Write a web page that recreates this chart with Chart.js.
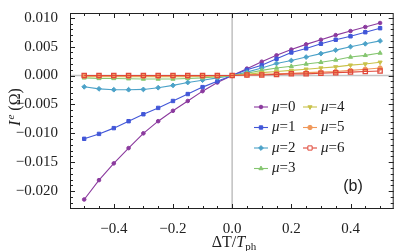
<!DOCTYPE html>
<html>
<head>
<meta charset="utf-8">
<script src="https://cdn.jsdelivr.net/npm/chart.js@4.4.0/dist/chart.umd.min.js"></script>
<style>
html,body{margin:0;padding:0;background:#fff;}
#wrap{position:relative;width:399px;height:251px;}
</style>
</head>
<body>
<div id="wrap"><canvas id="c" width="399" height="251"></canvas></div>
<script>
// ---- data ----
const deltaT = [-0.5,-0.45,-0.4,-0.35,-0.3,-0.25,-0.2,-0.15,-0.1,-0.05,0,0.05,0.1,0.15,0.2,0.25,0.3,0.35,0.4,0.45,0.5];
const mu0 = [-0.02145,-0.0181,-0.0152,-0.01256,-0.0100,-0.0079,-0.0061,-0.0044,-0.0027,-0.0012,0,0.0012,0.0024,0.0035,0.0045,0.0054,0.0062,0.0070,0.0077,0.0084,0.0091];
const mu1 = [-0.01095,-0.0101,-0.0091,-0.0079,-0.0067,-0.0056,-0.0044,-0.0032,-0.0020,-0.0010,0,0.0010,0.0018,0.0029,0.0040,0.0047,0.0055,0.0062,0.0068,0.0075,0.0082];
const mu2 = [-0.00195,-0.0023,-0.00245,-0.00245,-0.0024,-0.0021,-0.0017,-0.0012,-0.0008,-0.0004,0,0.0006,0.0013,0.0021,0.0026,0.0032,0.0038,0.0044,0.0050,0.0055,0.0060];
const mu3 = [-0.0004,-0.0005,-0.0005,-0.00055,-0.0006,-0.0006,-0.0006,-0.0005,-0.0004,-0.0002,0,0.0004,0.0009,0.0013,0.0016,0.0020,0.0023,0.0027,0.0032,0.0035,0.0039];
const mu4 = [-0.0002,-0.0002,-0.0002,-0.0002,-0.0002,-0.0002,-0.0002,-0.0002,-0.0001,-0.0001,0,0.0002,0.0005,0.0007,0.0009,0.0011,0.0013,0.0015,0.0018,0.0020,0.0023];
const mu5 = [-0.0001,-0.0001,-0.0001,-0.0001,-0.0001,-0.0001,-0.0001,-0.0001,-0.0001,0,0,0.0001,0.0002,0.0003,0.0004,0.0005,0.0006,0.0007,0.0009,0.0011,0.0013];
const mu6 = [0,0,0,0,0,0,0,0,0,0,0,0.0001,0.0001,0.0002,0.0003,0.0003,0.0004,0.0005,0.0006,0.0007,0.0008];
const seriesLabels = ['μ=0','μ=1','μ=2','μ=3','μ=4','μ=5','μ=6'];
const xTicks = [-0.4,-0.2,0,0.2,0.4];
const yTicks = [-0.020,-0.015,-0.010,-0.005,0,0.005,0.010];

// ---- styles ----
const colors = ['#8b3a9e','#4257d8','#4ca2c8','#85c670','#c9c24a','#f0985a','#e0483a'];
const styles = ['circle','rect','rectRot','triangle','triangle','circle','rect'];
const radii = [1.8,2.4,2.4,2.4,2.4,2.2,3.0];
const rots = [0,0,0,0,180,0,0];
const filled = [true,true,true,true,true,true,false];
const allSeries = [mu0,mu1,mu2,mu3,mu4,mu5,mu6];

const datasets = allSeries.map((s,i)=>({
  label: seriesLabels[i],
  data: deltaT.map((x,k)=>({x:x,y:s[k]})),
  borderColor: colors[i],
  backgroundColor: filled[i] ? colors[i] : 'rgba(255,255,255,0)',
  pointBorderColor: colors[i],
  pointBackgroundColor: filled[i] ? colors[i] : 'rgba(255,255,255,0)',
  pointStyle: styles[i],
  pointRadius: radii[i],
  pointRotation: rots[i],
  pointBorderWidth: filled[i] ? 1 : 1.3,
  borderWidth: 1.1,
  tension: 0,
  order: 10 - i
}));

const framePlugin = {
  id: 'frame',
  beforeDatasetsDraw(chart){
    const {ctx, chartArea:a, scales:{x,y}} = chart;
    ctx.save();
    ctx.strokeStyle = '#c4c4c4';
    ctx.lineWidth = 1.6;
    const x0 = x.getPixelForValue(0), y0 = y.getPixelForValue(0);
    ctx.beginPath();
    ctx.moveTo(x0, a.top); ctx.lineTo(x0, a.bottom);
    ctx.moveTo(a.left, y0); ctx.lineTo(a.right, y0);
    ctx.stroke();
    ctx.restore();
  },
  afterDraw(chart){
    const {ctx, chartArea:a, scales:{x,y}} = chart;
    ctx.save();
    ctx.strokeStyle = '#222';
    ctx.lineWidth = 1;
    ctx.strokeRect(a.left+0.5, a.top+0.5, a.right-a.left-1, a.bottom-a.top-1);
    ctx.beginPath();
    for (let k=-10;k<=10;k++){
      const v = k*0.05;
      if (v < x.min || v > x.max) continue;
      const major = (k % 4 === 0);
      const len = major ? 5 : 3;
      const px = Math.round(x.getPixelForValue(v))+0.5;
      ctx.moveTo(px, a.bottom); ctx.lineTo(px, a.bottom-len);
      ctx.moveTo(px, a.top); ctx.lineTo(px, a.top+len);
    }
    for (let k=-23;k<=10;k++){
      const v = k*0.001;
      if (v < y.min || v > y.max) continue;
      const major = (k % 5 === 0);
      const len = major ? 5 : 3;
      const py = Math.round(y.getPixelForValue(v))+0.5;
      ctx.moveTo(a.left, py); ctx.lineTo(a.left+len, py);
      ctx.moveTo(a.right, py); ctx.lineTo(a.right-len, py);
    }
    ctx.stroke();
    ctx.restore();

    // legend
    const rows = [107, 127.5, 148, 168.5];
    const cols = [261, 310];
    seriesLabels.forEach((lab,i)=>{
      const c = i < 4 ? 0 : 1;
      const r = i < 4 ? i : i-4;
      const cx = cols[c], cy = rows[r];
      ctx.save();
      ctx.strokeStyle = colors[i];
      ctx.lineWidth = 1.1;
      ctx.beginPath(); ctx.moveTo(cx-7, cy); ctx.lineTo(cx+7, cy); ctx.stroke();
      ctx.fillStyle = filled[i] ? colors[i] : '#fff';
      ctx.strokeStyle = colors[i];
      ctx.lineWidth = 1;
      Chart.helpers.drawPoint(ctx, {
        pointStyle: styles[i], radius: radii[i], rotation: rots[i], borderWidth: 1
      }, cx, cy);
      ctx.fillStyle = '#222';
      ctx.textBaseline = 'middle';
      ctx.textAlign = 'left';
      ctx.font = 'italic 15px "Liberation Serif"';
      const tx = cx + 11;
      ctx.fillText('μ', tx, cy);
      const w = ctx.measureText('μ').width;
      ctx.font = '15px "Liberation Serif"';
      ctx.fillText(lab.slice(1), tx + w, cy);
      ctx.restore();
    });

    ctx.save();
    // (b)
    ctx.fillStyle = '#222';
    ctx.font = '16px "Liberation Sans"';
    ctx.textAlign = 'center';
    ctx.textBaseline = 'middle';
    ctx.fillText('(b)', 353, 187);

    // y label
    ctx.save();
    ctx.translate(15, 107);
    ctx.rotate(-Math.PI/2);
    ctx.textBaseline = 'alphabetic';
    ctx.textAlign = 'left';
    ctx.font = 'italic 16px "Liberation Serif"';
    const wI = ctx.measureText('I').width;
    ctx.font = 'italic 11px "Liberation Serif"';
    const wE = ctx.measureText('e').width;
    ctx.font = '16px "Liberation Serif"';
    const wR = ctx.measureText(' (Ω)').width;
    let sx = -(wI + wE + 1 + wR)/2;
    ctx.font = 'italic 16px "Liberation Serif"';
    ctx.fillText('I', sx, 5); sx += wI + 1;
    ctx.font = 'italic 11px "Liberation Serif"';
    ctx.fillText('e', sx, -1); sx += wE;
    ctx.font = '16px "Liberation Serif"';
    ctx.fillText(' (Ω)', sx, 5);
    ctx.restore();

    // x label
    ctx.textAlign = 'left';
    ctx.textBaseline = 'alphabetic';
    ctx.font = '16px "Liberation Serif"';
    const w1 = ctx.measureText('ΔT/').width;
    ctx.font = 'italic 16px "Liberation Serif"';
    const w2 = ctx.measureText('T').width;
    ctx.font = '11px "Liberation Serif"';
    const w3 = ctx.measureText('ph').width;
    let lx = 234 - (w1+w2+w3)/2;
    const ly = 247;
    ctx.font = '16px "Liberation Serif"';
    ctx.fillText('ΔT/', lx, ly); lx += w1;
    ctx.font = 'italic 16px "Liberation Serif"';
    ctx.fillText('T', lx, ly); lx += w2;
    ctx.font = '11px "Liberation Serif"';
    ctx.fillText('ph', lx, ly + 3);
    ctx.restore();
  }
};

const tickFont = {family: '"Liberation Serif"', size: 15};

new Chart(document.getElementById('c'), {
  type: 'line',
  data: { datasets },
  options: {
    responsive: false,
    animation: false,
    devicePixelRatio: 1,
    layout: { padding: { top: 5, right: 1, left: 0, bottom: 0 } },
    plugins: { legend: { display: false }, tooltip: { enabled: false } },
    scales: {
      x: {
        type: 'linear',
        min: -0.548, max: 0.546,
        grid: { display: false },
        border: { display: false },
        afterBuildTicks: s => { s.ticks = xTicks.map(v=>({value:v})); },
        afterFit: s => { s.height = 42; },
        ticks: {
          font: tickFont, color: '#222', padding: 3, maxRotation: 0,
          callback: v => (v < 0 ? '\u2212' : '') + Math.abs(v).toFixed(1)
        }
      },
      y: {
        type: 'linear',
        min: -0.0231, max: 0.01083,
        grid: { display: false },
        border: { display: false },
        afterBuildTicks: s => { s.ticks = yTicks.map(v=>({value:v})); },
        afterFit: s => { s.width = 70; },
        ticks: {
          font: tickFont, color: '#222', padding: 4,
          callback: v => (v < -1e-9 ? '\u2212' : '') + Math.abs(v).toFixed(3)
        }
      }
    }
  },
  plugins: [framePlugin]
});
</script>
</body>
</html>
